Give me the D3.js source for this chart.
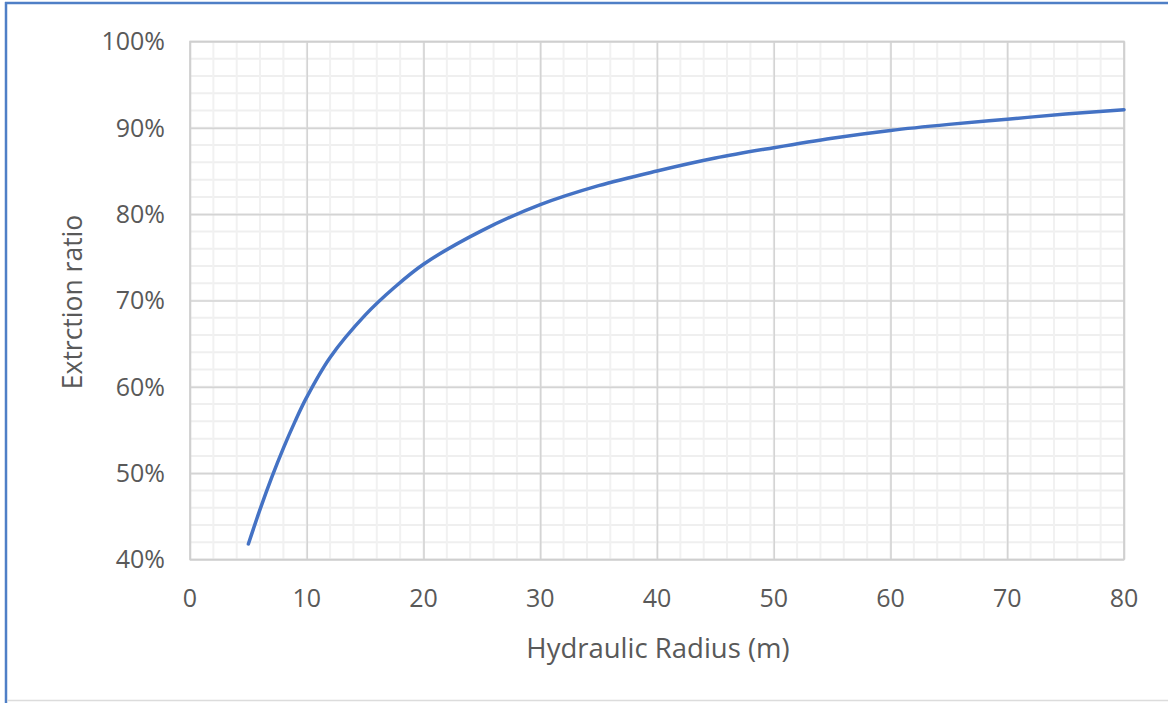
<!DOCTYPE html>
<html>
<head>
<meta charset="utf-8">
<script src="https://cdn.jsdelivr.net/npm/d3@7"></script>
<style>
  html, body { margin: 0; padding: 0; background: #fff; }
  svg { display: block; }
  text { font-family: "Open Sans", "DejaVu Sans", sans-serif; fill: #595959; }
</style>
</head>
<body>
<svg id="chart" width="1168" height="703"></svg>
<script>
// Hydraulic radius (m) and the extraction ratio read at each radius
const radius = [5, 6, 7, 8, 9, 10, 12, 15, 17.5, 20, 25, 30, 35, 40, 45, 50, 55, 60, 65, 70, 75, 80];
const ratio  = [0.418, 0.458, 0.495, 0.529, 0.560, 0.588, 0.634, 0.683, 0.715, 0.742, 0.781, 0.811,
                0.833, 0.850, 0.865, 0.877, 0.888, 0.897, 0.904, 0.910, 0.916, 0.921];

const xTicks = [0, 10, 20, 30, 40, 50, 60, 70, 80];
const yTicks = [0.4, 0.5, 0.6, 0.7, 0.8, 0.9, 1.0];
const xMinor = d3.range(0, 80.001, 2);
const yMinor = d3.range(0.4, 1.0001, 0.02);

const xTitle = "Hydraulic Radius (m)";
const yTitle = "Extrction ratio";

const svg = d3.select("#chart");
const W = 1168, H = 703;
const plot = { left: 190, right: 1124, top: 41.5, bottom: 559.5 };

// Outer frame: blue on left and top, light grey along the bottom
svg.append("line").attr("x1", 6).attr("x2", 6).attr("y1", 2).attr("y2", H)
  .attr("stroke", "#4f7fc6").attr("stroke-width", 2.5);
svg.append("line").attr("x1", 5).attr("x2", W).attr("y1", 3).attr("y2", 3)
  .attr("stroke", "#4f7fc6").attr("stroke-width", 2.5);
svg.append("line").attr("x1", 7).attr("x2", W).attr("y1", 700.5).attr("y2", 700.5)
  .attr("stroke", "#dcdcdc").attr("stroke-width", 1.5);

const x = d3.scaleLinear().domain([0, 80]).range([plot.left, plot.right]);
const y = d3.scaleLinear().domain([0.4, 1.0]).range([plot.bottom, plot.top]);

// Minor gridlines
const g = svg.append("g");
g.selectAll("line.ymin").data(yMinor).join("line")
  .attr("x1", plot.left).attr("x2", plot.right)
  .attr("y1", d => y(d)).attr("y2", d => y(d))
  .attr("stroke", "#efefef").attr("stroke-width", 2);
g.selectAll("line.xmin").data(xMinor).join("line")
  .attr("y1", plot.top).attr("y2", plot.bottom)
  .attr("x1", d => x(d)).attr("x2", d => x(d))
  .attr("stroke", "#f1f1f1").attr("stroke-width", 2);

// Major gridlines
g.append("g")
  .attr("transform", `translate(${plot.left},0)`)
  .call(d3.axisLeft(y).tickValues(yTicks).tickSize(-(plot.right - plot.left)).tickFormat(""))
  .call(a => a.select(".domain").remove())
  .selectAll("line").attr("stroke", "#d4d4d4").attr("stroke-width", 1.6);
g.append("g")
  .attr("transform", `translate(0,${plot.bottom})`)
  .call(d3.axisBottom(x).tickValues(xTicks).tickSize(-(plot.bottom - plot.top)).tickFormat(""))
  .call(a => a.select(".domain").remove())
  .selectAll("line").attr("stroke", "#d4d4d4").attr("stroke-width", 1.6);

// Plot frame
svg.append("rect")
  .attr("x", plot.left).attr("y", plot.top)
  .attr("width", plot.right - plot.left).attr("height", plot.bottom - plot.top)
  .attr("fill", "none").attr("stroke", "#cfcfcf").attr("stroke-width", 1.6);

// Tick labels
const fmtPct = d3.format(".0%");
svg.append("g").selectAll("text").data(yTicks).join("text")
  .attr("x", 165).attr("y", d => y(d))
  .attr("dy", "0.35em").attr("text-anchor", "end")
  .attr("font-size", 25).text(d => fmtPct(d));
svg.append("g").selectAll("text").data(xTicks).join("text")
  .attr("x", d => x(d)).attr("y", 607)
  .attr("text-anchor", "middle")
  .attr("font-size", 25).text(d => d);

// Axis titles
svg.append("text").attr("x", 658).attr("y", 658)
  .attr("text-anchor", "middle").attr("font-size", 27.5).text(xTitle);
svg.append("text")
  .attr("transform", "translate(82,302) rotate(-90)")
  .attr("text-anchor", "middle").attr("font-size", 26.5).text(yTitle);

// Data line
const pts = radius.map((r, i) => [r, ratio[i]]);
svg.append("path")
  .datum(pts)
  .attr("fill", "none")
  .attr("stroke", "#4472c4")
  .attr("stroke-width", 3.5)
  .attr("stroke-linecap", "round")
  .attr("d", d3.line().x(d => x(d[0])).y(d => y(d[1])).curve(d3.curveCatmullRom.alpha(0.5)));
</script>
</body>
</html>
